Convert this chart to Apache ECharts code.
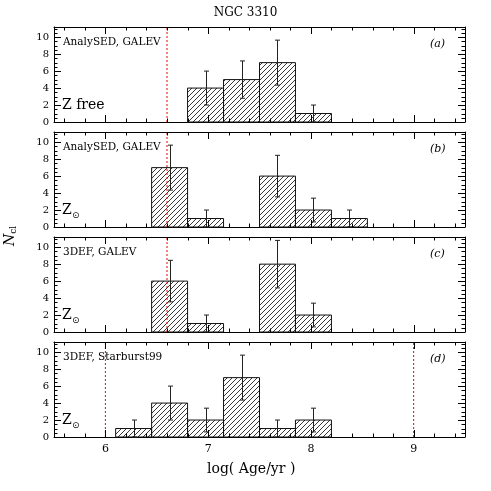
<!DOCTYPE html>
<html>
<head>
<meta charset="utf-8">
<script src="https://cdn.jsdelivr.net/npm/echarts@6/dist/echarts.min.js"></script>
<style>
  html, body { margin: 0; padding: 0; background: #fff; }
  #chart { width: 491px; height: 491px; }
</style>
</head>
<body>
<div id="chart"></div>
<script>
// histogram bins (left edges, log age), common to all panels
const binLeft = [6.1, 6.45, 6.8, 7.15, 7.5, 7.85, 8.2];
const binWidth = 0.35;

// cluster counts per panel
const countsA = [0, 0, 4, 5, 7, 1, 0];
const countsB = [0, 7, 1, 0, 6, 2, 1];
const countsC = [0, 6, 1, 0, 8, 2, 0];
const countsD = [1, 4, 2, 7, 1, 2, 0];

// error bar half-lengths
const errA = [0, 0, 2.0, 2.2, 2.65, 1.0, 0];
const errB = [0, 2.65, 1.0, 0, 2.45, 1.4, 1.0];
const errC = [0, 2.45, 1.0, 0, 2.8, 1.4, 0];
const errD = [1.0, 2.0, 1.4, 2.65, 1.0, 1.4, 0];

// red dotted reference lines
const refLines = [[6.6], [6.6], [6.6], [6.0, 9.0]];

// panel texts
const modelLabels = ['AnalySED, GALEV', 'AnalySED, GALEV', '3DEF, GALEV', '3DEF, Starburst99'];
const panelTags = ['(a)', '(b)', '(c)', '(d)'];
const metalLabels = ['Z free', 'Z', 'Z', 'Z'];

// ticks
const xMajor = [6, 7, 8, 9];
const yMajor = [0, 2, 4, 6, 8, 10];
const xMinor = [];
for (let v = 5.6; v < 9.45; v += 0.2) xMinor.push(Math.round(v * 10) / 10);
const yMinor = [];
for (let v = 0.5; v <= 11; v += 0.5) yMinor.push(v);

const counts = [countsA, countsB, countsC, countsD];
const errs = [errA, errB, errC, errD];

const tops = [27, 132, 237, 342];
const panelH = 95;
const left = 54, right = 26;
const xMin = 5.5, xMax = 9.5, yMin = 0, yMax = 11.2;
const FONT = '"DejaVu Serif", serif';

// diagonal hatch pattern
const hatch = document.createElement('canvas');
hatch.width = 5; hatch.height = 5;
(function () {
    const c = hatch.getContext('2d');
    c.strokeStyle = '#222';
    c.lineWidth = 0.9;
    c.beginPath();
    c.moveTo(-1, 6); c.lineTo(6, -1);
    c.moveTo(-1, 1); c.lineTo(1, -1);
    c.moveTo(4, 6); c.lineTo(6, 4);
    c.stroke();
})();

const grids = [], xAxes = [], yAxes = [], series = [], graphics = [];
const axisStyle = { color: '#000', width: 1 };

// all frame ticks of one panel, drawn as one group through the panel's scales
const renderTicks = (params, api) => {
    const lb = api.coord([xMin, yMin]);
    const rt = api.coord([xMax, yMax]);
    const st = { stroke: '#000', lineWidth: 1 };
    const children = [];
    const addX = (v, len) => {
        const x = Math.round(api.coord([v, yMin])[0]) + 0.5;
        children.push({ type: 'line', shape: { x1: x, y1: lb[1], x2: x, y2: lb[1] - len }, style: st });
        children.push({ type: 'line', shape: { x1: x, y1: rt[1], x2: x, y2: rt[1] + len }, style: st });
    };
    const addY = (v, len) => {
        const y = Math.round(api.coord([xMin, v])[1]) + 0.5;
        children.push({ type: 'line', shape: { x1: lb[0], y1: y, x2: lb[0] + len, y2: y }, style: st });
        children.push({ type: 'line', shape: { x1: rt[0], y1: y, x2: rt[0] - len, y2: y }, style: st });
    };
    xMinor.forEach(v => addX(v, 3.5));
    xMajor.forEach(v => addX(v, 7));
    yMinor.forEach(v => addY(v, 3.5));
    yMajor.forEach(v => addY(v, 7));
    return { type: 'group', children: children };
};

for (let i = 0; i < 4; i++) {
    grids.push({ left: left, right: right, top: tops[i], height: panelH });
    const xi = xAxes.length, yi = yAxes.length;
    xAxes.push({
        type: 'value', gridIndex: i, position: 'bottom', min: xMin, max: xMax,
        axisLine: { show: true, onZero: false, lineStyle: axisStyle },
        axisTick: { show: false },
        axisLabel: { show: i === 3, customValues: xMajor, color: '#000', fontSize: 11,
            fontFamily: FONT, margin: 7 },
        splitLine: { show: false }
    });
    xAxes.push({
        type: 'value', gridIndex: i, position: 'top', min: xMin, max: xMax,
        axisLine: { show: true, onZero: false, lineStyle: axisStyle },
        axisTick: { show: false }, axisLabel: { show: false }, splitLine: { show: false }
    });
    yAxes.push({
        type: 'value', gridIndex: i, position: 'left', min: yMin, max: yMax,
        axisLine: { show: true, onZero: false, lineStyle: axisStyle },
        axisTick: { show: false },
        axisLabel: { show: true, customValues: yMajor, color: '#000', fontSize: 10,
            fontFamily: FONT, margin: 5 },
        splitLine: { show: false }
    });
    yAxes.push({
        type: 'value', gridIndex: i, position: 'right', min: yMin, max: yMax,
        axisLine: { show: true, onZero: false, lineStyle: axisStyle },
        axisTick: { show: false }, axisLabel: { show: false }, splitLine: { show: false }
    });

    const bars = [], errBars = [];
    binLeft.forEach((x0, k) => {
        const n = counts[i][k];
        if (!n) return;
        bars.push([x0, x0 + binWidth, n]);
        const xc = x0 + binWidth / 2;
        errBars.push([xc, Math.max(0, n - errs[i][k]), n + errs[i][k]]);
    });

    series.push({
        type: 'custom', xAxisIndex: xi, yAxisIndex: yi, silent: true,
        data: bars,
        encode: { x: [0, 1], y: 2 },
        renderItem: (params, api) => {
            const p0 = api.coord([api.value(0), api.value(2)]);
            const p1 = api.coord([api.value(1), 0]);
            return {
                type: 'rect',
                shape: { x: p0[0], y: p0[1], width: p1[0] - p0[0], height: p1[1] - p0[1] },
                style: { fill: { image: hatch, repeat: 'repeat' }, stroke: '#111', lineWidth: 1 }
            };
        },
        z: 2
    });

    series.push({
        type: 'custom', xAxisIndex: xi, yAxisIndex: yi, silent: true,
        data: errBars,
        encode: { x: 0, y: [1, 2] },
        renderItem: (params, api) => {
            const lo = api.coord([api.value(0), api.value(1)]);
            const hi = api.coord([api.value(0), api.value(2)]);
            const cap = 2.5;
            const x = Math.round(lo[0]) + 0.5;
            const st = { stroke: '#222', lineWidth: 1 };
            return {
                type: 'group',
                children: [
                    { type: 'line', shape: { x1: x, y1: lo[1], x2: x, y2: hi[1] }, style: st },
                    { type: 'line', shape: { x1: x - cap, y1: hi[1], x2: x + cap, y2: hi[1] }, style: st },
                    { type: 'line', shape: { x1: x - cap, y1: lo[1], x2: x + cap, y2: lo[1] }, style: st }
                ]
            };
        },
        z: 3
    });

    series.push({
        type: 'custom', xAxisIndex: xi, yAxisIndex: yi, silent: true,
        data: refLines[i].map(v => [v, yMin]),
        encode: { x: 0, y: 1 },
        renderItem: (params, api) => {
            const lo = api.coord([api.value(0), yMin]);
            const hi = api.coord([api.value(0), yMax]);
            return {
                type: 'line',
                shape: { x1: lo[0], y1: lo[1], x2: hi[0], y2: hi[1] },
                style: { stroke: 'red', lineWidth: 1, lineDash: [2, 2] }
            };
        },
        z: 4
    });

    // inward frame ticks, one item placed mid-panel
    series.push({
        type: 'custom', xAxisIndex: xi, yAxisIndex: yi, silent: true,
        data: [[7.5, 5.6]],
        encode: { x: 0, y: 1 },
        renderItem: renderTicks,
        z: 5
    });

    // panel annotations
    graphics.push({
        type: 'text', left: 63, top: tops[i] + 10,
        style: { text: modelLabels[i], font: '10.5px ' + FONT, fill: '#000' }
    });
    graphics.push({
        type: 'text', left: 430, top: tops[i] + 12,
        style: { text: panelTags[i], font: 'italic 11px ' + FONT, fill: '#000' }
    });
    graphics.push({
        type: 'text', left: 62, top: tops[i] + panelH - 24,
        style: { text: metalLabels[i], font: '14px ' + FONT, fill: '#000' }
    });
    if (i > 0) {
        graphics.push({
            type: 'text', left: 72, top: tops[i] + panelH - 16,
            style: { text: '\u2299', font: '9px "DejaVu Sans", sans-serif', fill: '#000' }
        });
    }
}

// title and axis titles
graphics.push({
    type: 'text', left: 'center', top: 7,
    style: { text: 'NGC 3310', font: '12px ' + FONT, fill: '#000' }
});
graphics.push({
    type: 'text', left: 207, top: 462,
    style: { text: 'log( Age/yr )', font: '14px ' + FONT, fill: '#000' }
});
graphics.push({
    type: 'text', x: 10, y: 236, rotation: Math.PI / 2,
    style: {
        text: '{n|N}{s|cl}', fill: '#000', align: 'center', verticalAlign: 'middle',
        rich: {
            n: { font: 'italic 14px ' + FONT, fill: '#000' },
            s: { font: '9px ' + FONT, fill: '#000', padding: [8, 0, 0, 0] }
        }
    }
});

const chart = echarts.init(document.getElementById('chart'), null, { renderer: 'canvas' });
chart.setOption({
    animation: false,
    backgroundColor: '#fff',
    grid: grids,
    xAxis: xAxes,
    yAxis: yAxes,
    series: series,
    graphic: graphics
});
</script>
</body>
</html>
